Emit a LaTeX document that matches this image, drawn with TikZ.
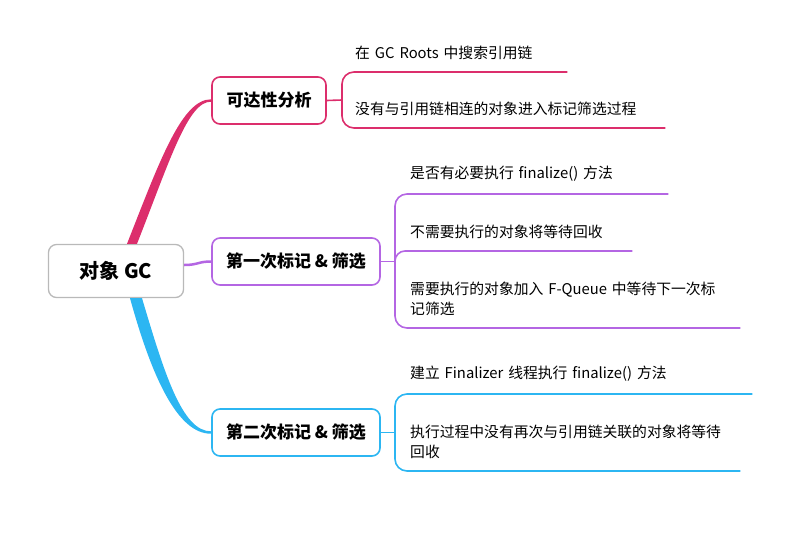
\documentclass[tikz,border=0pt]{standalone}
\usepackage{fontspec}
\setmainfont{Noto Sans CJK SC}
\usepackage{tikz}
\usetikzlibrary{calc}

\definecolor{markpink}{HTML}{DC2E6C}
\definecolor{markpurple}{HTML}{B466E3}
\definecolor{markblue}{HTML}{2CB6F2}

\begin{document}
\begin{tikzpicture}[x=1pt,y=-1pt,line join=round]

  \tikzstyle{topic}=[rectangle,draw,line width=1.6pt,rounded corners=8pt,fill=white,
                     minimum height=47pt,font=\fontsize{17}{20}\selectfont\bfseries]
  \tikzstyle{leaf}=[anchor=south west,inner xsep=0pt,inner ysep=12pt,align=left,
                    font=\fontsize{14.8}{20}\selectfont]

  \useasboundingbox (0,0) rectangle (800,544);

  \node[topic,draw=gray!55,line width=1.3pt,minimum width=135pt,minimum height=53pt,
        font=\fontsize{20}{24}\selectfont\bfseries] (GC) at (116,271) {对象 GC};
  \node[topic,draw=markpink,minimum width=114pt]   (RA) at (269,100.5) {可达性分析};
  \node[topic,draw=markpurple,minimum width=168pt] (FM) at (296,261.5) {第一次标记 \& 筛选};
  \node[topic,draw=markblue,minimum width=168pt]   (SM) at (296,432.5) {第二次标记 \& 筛选};

  \node[leaf,text width=212pt] (RA1) at (355,72)  {在 GC Roots 中搜索引用链};
  \node[leaf,text width=310pt] (RA2) at (355,128) {没有与引用链相连的对象进入标记筛选过程};
  \node[leaf,text width=258pt] (FM1) at (410,194) {是否有必要执行 finalize() 方法};
  \node[leaf,text width=222pt] (FM2) at (410,251) {不需要执行的对象将等待回收};
  \node[leaf,text width=330pt] (FM3) at (410,328) {需要执行的对象加入 F-Queue 中等待下一次标\\记筛选};
  \node[leaf,text width=342pt] (SM1) at (410,394) {建立 Finalizer 线程执行 finalize() 方法};
  \node[leaf,text width=330pt] (SM2) at (410,471) {执行过程中没有再次与引用链关联的对象将等待\\回收};

  % main branches
  \fill[markpink] ($(GC.north)+(11,0)$) .. controls (160,160) and (182,99) .. ($(RA.west)+(0,-1.2)$)
    -- ($(RA.west)+(0,1.2)$) .. controls (188,101) and (170,160) .. ($(GC.north)+(21,0)$) -- cycle;
  \draw[markpurple,line width=2.5pt] ($(GC.east)+(0,-6)$) .. controls (198,265) and (198,261.5) .. (FM.west);
  \fill[markblue] ($(GC.south)+(14,0)$) .. controls (152,378) and (178,434.2) .. ($(SM.west)+(0,1.2)$)
    -- ($(SM.west)+(0,-1.2)$) .. controls (182,431.8) and (164,372) .. ($(GC.south)+(26,0)$) -- cycle;

  % brackets
  \draw[markpink,line width=1.6pt] (RA.east) -- (342,100);
  \draw[markpink,line width=1.6pt,rounded corners=12pt]
    (RA1.south east) -- ($(RA1.south west)+(-13,0)$) |- (RA2.south east);

  \draw[markpurple,line width=1.6pt] (FM.east) -- (395,261.5);
  \draw[markpurple,line width=1.6pt,rounded corners=12pt]
    (FM1.south east) -- ($(FM1.south west)+(-15,0)$) |- (FM3.south east);
  \draw[markpurple,line width=1.6pt,rounded corners=10pt]
    (395,262) |- (FM2.south east);

  \draw[markblue,line width=1.6pt] (SM.east) -- (395,432.5);
  \draw[markblue,line width=1.6pt,rounded corners=12pt]
    (SM1.south east) -- ($(SM1.south west)+(-15,0)$) |- (SM2.south east);

\end{tikzpicture}
\end{document}
